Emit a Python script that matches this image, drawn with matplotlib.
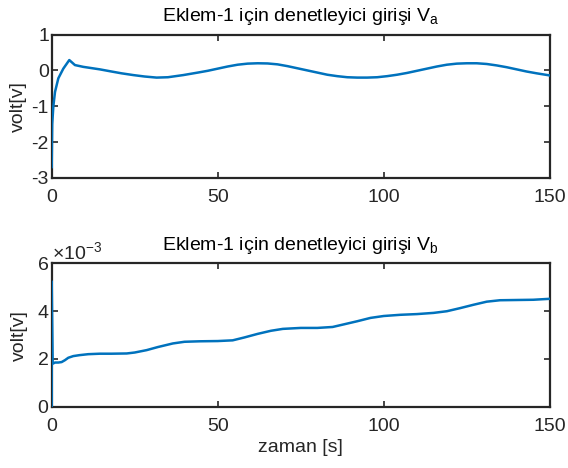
import matplotlib
matplotlib.use("Agg")
import matplotlib.pyplot as plt
from matplotlib.ticker import ScalarFormatter

plt.rcParams["font.family"] = ["Liberation Sans", "DejaVu Sans"]
plt.rcParams["mathtext.fontset"] = "custom"
plt.rcParams["mathtext.rm"] = "Liberation Sans"
plt.rcParams["mathtext.it"] = "Liberation Sans"
plt.rcParams["axes.unicode_minus"] = False

# ---- data ----
t_a = [0, 0.15, 0.5, 1.0, 2.0, 3.5, 5.3, 7.0, 9.5, 14.5, 18, 21, 24.6, 28, 31.6,
       35, 39.6, 44, 47, 50, 53, 56, 59, 62, 65, 68, 71, 74, 77, 80, 83, 86,
       89, 92, 95, 98, 101, 104, 107, 110, 113, 116, 119, 122, 125, 128, 131,
       134, 137, 140, 143, 146, 150]
v_a = [-2.7, -1.5, -1.0, -0.6, -0.22, 0.05, 0.29, 0.15, 0.1, 0.03, -0.03, -0.08,
       -0.13, -0.17, -0.2, -0.19, -0.13, -0.06, -0.01, 0.05, 0.11, 0.16, 0.19,
       0.2, 0.195, 0.17, 0.12, 0.06, 0.0, -0.06, -0.12, -0.16, -0.19, -0.2,
       -0.2, -0.19, -0.16, -0.12, -0.07, -0.01, 0.05, 0.11, 0.16, 0.19, 0.2,
       0.2, 0.18, 0.14, 0.09, 0.03, -0.03, -0.08, -0.14]

t_b = [0, 0, 0.3, 1, 2, 3, 4, 5, 6.5, 8.4, 11, 14.5, 18, 22.6, 25, 28.6, 32,
       36.5, 40, 44.6, 50, 54.5, 58, 62, 66, 69.6, 75, 80, 84.6, 88, 92, 96,
       100, 105, 110, 115, 119, 123, 127, 131, 135, 140, 145, 150]
v_b_milli = [0, 5.25, 1.8, 1.85, 1.85, 1.87, 1.95, 2.05, 2.12, 2.16, 2.2, 2.22,
             2.22, 2.23, 2.27, 2.37, 2.5, 2.65, 2.72, 2.74, 2.75, 2.78, 2.9,
             3.05, 3.18, 3.26, 3.3, 3.3, 3.34, 3.45, 3.58, 3.72, 3.8, 3.85,
             3.88, 3.93, 4.0, 4.13, 4.27, 4.4, 4.46, 4.47, 4.48, 4.52]
v_b = [v * 1e-3 for v in v_b_milli]

x_ticks = [0, 50, 100, 150]
ya_ticks = [-3, -2, -1, 0, 1]
yb_ticks = [0, 0.002, 0.004, 0.006]

line_color = "#0072BD"
axis_color = "#262626"
fs = 14

fig = plt.figure(figsize=(5.68, 4.68), dpi=100)
ax1 = fig.add_axes([0.091, 0.620, 0.877, 0.306])
ax2 = fig.add_axes([0.091, 0.131, 0.877, 0.306])


def style(ax):
    for s in ax.spines.values():
        s.set_linewidth(1.6)
        s.set_color(axis_color)
    ax.tick_params(direction="in", top=True, right=True, length=4, width=1.2,
                   labelsize=fs, colors=axis_color)
    ax.tick_params(axis="y", pad=2)
    ax.tick_params(axis="x", pad=8)
    ax.set_xlim(0, 150)
    ax.set_xticks(x_ticks)


ax1.plot(t_a, v_a, color=line_color, linewidth=1.8, zorder=3)
style(ax1)
ax1.set_ylim(-3, 1)
ax1.set_yticks(ya_ticks)
ax1.set_ylabel("volt[v]", fontsize=fs, color=axis_color, labelpad=3)
ax1.set_title("Eklem-1 için denetleyici girişi V$_{\\rm a}$", fontsize=fs, pad=10)

ax2.plot(t_b, v_b, color=line_color, linewidth=1.8, zorder=3)
style(ax2)
ax2.set_ylim(0, 0.006)
ax2.set_yticks(yb_ticks)
fmt = ScalarFormatter(useMathText=True)
fmt.set_powerlimits((0, 0))
ax2.yaxis.set_major_formatter(fmt)
ax2.yaxis.get_offset_text().set_fontsize(fs)
ax2.yaxis.get_offset_text().set_color(axis_color)
ax2.set_ylabel("volt[v]", fontsize=fs, color=axis_color, labelpad=6)
ax2.set_xlabel("zaman [s]", fontsize=fs, color=axis_color, labelpad=3)
ax2.set_title("Eklem-1 için denetleyici girişi V$_{\\rm b}$", fontsize=fs, pad=10)

fig.savefig("out.png", dpi=100)
